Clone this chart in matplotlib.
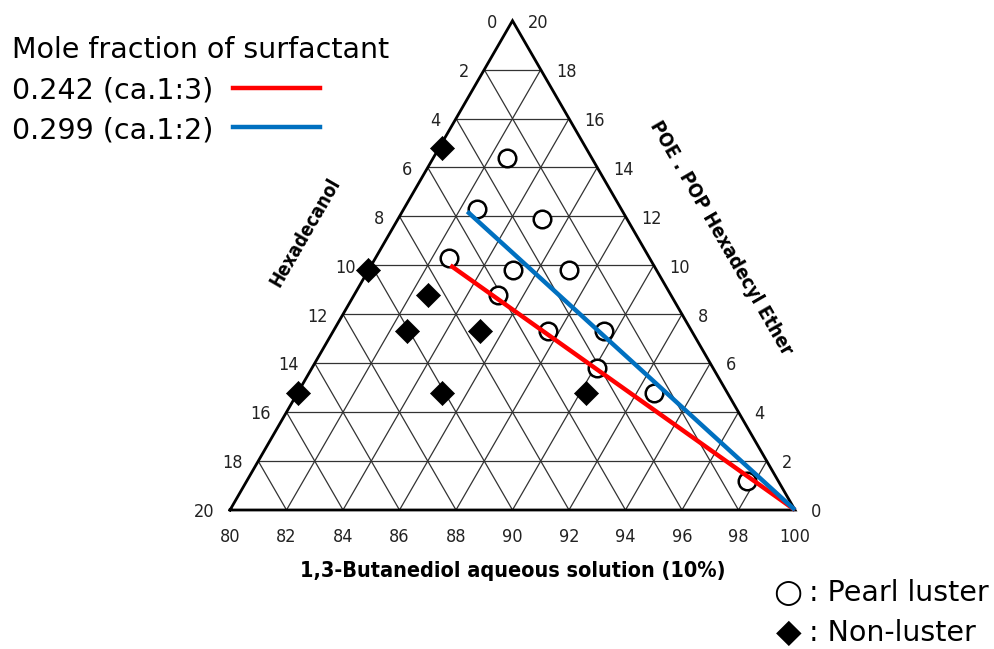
import numpy as np
import matplotlib
matplotlib.use("Agg")
import matplotlib.pyplot as plt

# ---- data (Hexadecanol %, POE.POP Hexadecyl Ether %) ; Butanediol = 100 - H - P
pearl_hex = [3.0, 5.1, 3.0, 7.1, 5.1, 3.1, 6.1, 5.1, 3.1, 4.1, 2.6, 1.1]
pearl_poe = [14.4, 12.3, 11.9, 10.3, 9.8, 9.8, 8.8, 7.3, 7.3, 5.8, 4.8, 1.2]
non_hex = [5.1, 10.2, 8.6, 10.1, 7.5, 15.2, 10.1, 5.0]
non_poe = [14.8, 9.8, 8.8, 7.3, 7.3, 4.8, 4.8, 4.8]
red_hex = [7.2, 0.0]
red_poe = [10.0, 0.0]
blue_hex = [5.5, 0.0]
blue_poe = [12.2, 0.0]
bottom_ticks = [80, 82, 84, 86, 88, 90, 92, 94, 96, 98, 100]
side_ticks = [0, 2, 4, 6, 8, 10, 12, 14, 16, 18, 20]

S3 = np.sqrt(3) / 2


def tern(h, p):
    h = np.asarray(h, float)
    p = np.asarray(p, float)
    b = 100 - h - p
    return (b - 80) + p / 2, p * S3


fig = plt.figure(figsize=(9.95, 6.49), dpi=100)
ax = fig.add_axes([0, 0, 1, 1])
ax.set_xlim(-230 / 28.25, (995 - 230) / 28.25)
ax.set_ylim((510 - 649) / 28.25, 510 / 28.25)
ax.axis("off")

tick_font = dict(family="DejaVu Sans", stretch="condensed", fontsize=13, color="#222222")

# grid
for v in range(2, 20, 2):
    x, y = tern([20 - v, 0], [v, v])
    ax.plot(x, y, color="#333333", lw=0.9, zorder=1)
    x, y = tern([v, v], [0, 20 - v])
    ax.plot(x, y, color="#333333", lw=0.9, zorder=1)
    x, y = tern([20 - v, 0], [0, 20 - v])
    ax.plot(x, y, color="#333333", lw=0.9, zorder=1)

# outer triangle
x, y = tern([20, 0, 0, 20], [0, 0, 20, 0])
ax.plot(x, y, color="black", lw=2.0, zorder=2, solid_joinstyle="miter")

# tick labels
for t in bottom_ticks:
    bx, by = tern([20 - (t - 80)], [0])
    ax.text(bx[0], by[0] - 0.95, str(t), ha="center", va="center", **tick_font)
for t in side_ticks:
    lx, ly = tern([t], [20 - t])
    ax.text(lx[0] - 0.55, ly[0] - 0.08, str(t), ha="right", va="center", **tick_font)
    rx, ry = tern([0], [t])
    ax.text(rx[0] + 0.55, ry[0] - 0.08, str(t), ha="left", va="center", **tick_font)

# axis titles
title_font = dict(family="DejaVu Sans", stretch="condensed", fontweight="bold")
ax.text(10, -2.15, "1,3-Butanediol aqueous solution (10%)", ha="center", va="center",
        fontsize=15.5, **title_font)
ax.text((305 - 230) / 28.25, (510 - 232) / 28.25, "Hexadecanol", rotation=60,
        ha="center", va="center", fontsize=13.5, **title_font)
ax.text((721 - 230) / 28.25, (510 - 238) / 28.25, "POE . POP Hexadecyl Ether", rotation=-60,
        ha="center", va="center", fontsize=14, **title_font)

# lines
x, y = tern(red_hex, red_poe)
ax.plot(x, y, color="#FF0000", lw=3.2, zorder=4, solid_capstyle="butt")
x, y = tern(blue_hex, blue_poe)
ax.plot(x, y, color="#0070C0", lw=3.2, zorder=4, solid_capstyle="butt")

# points
x, y = tern(pearl_hex, pearl_poe)
ax.scatter(x, y, s=160, facecolors="white", edgecolors="black", linewidths=1.8, zorder=3)
x, y = tern(non_hex, non_poe)
ax.scatter(x, y, s=150, marker="D", facecolors="black", edgecolors="black", linewidths=0.5, zorder=3)

# legend (top-left)
leg_font = dict(family="DejaVu Sans", fontsize=20.5)
fig.text(12 / 995, 1 - 50 / 649, "Mole fraction of surfactant", ha="left", va="center", **leg_font)
fig.text(12 / 995, 1 - 91 / 649, "0.242 (ca.1:3)", ha="left", va="center", **leg_font)
fig.text(12 / 995, 1 - 131 / 649, "0.299 (ca.1:2)", ha="left", va="center", **leg_font)
fig.add_artist(plt.Line2D([233 / 995, 320 / 995], [1 - 88 / 649, 1 - 88 / 649], color="#FF0000", lw=3.2))
fig.add_artist(plt.Line2D([233 / 995, 320 / 995], [1 - 127 / 649, 1 - 127 / 649], color="#0070C0", lw=3.2))

# symbol key (bottom-right)
fig.text(788 / 995, 1 - 592 / 649, "○", ha="center", va="center", family="DejaVu Sans", fontsize=24)
fig.text(789 / 995, 1 - 632 / 649, "◆", ha="center", va="center", family="DejaVu Sans", fontsize=24)
fig.text(809 / 995, 1 - 593 / 649, ": Pearl luster", ha="left", va="center", **leg_font)
fig.text(809 / 995, 1 - 633 / 649, ": Non-luster", ha="left", va="center", **leg_font)

fig.savefig("out.png", dpi=100, facecolor="white")
